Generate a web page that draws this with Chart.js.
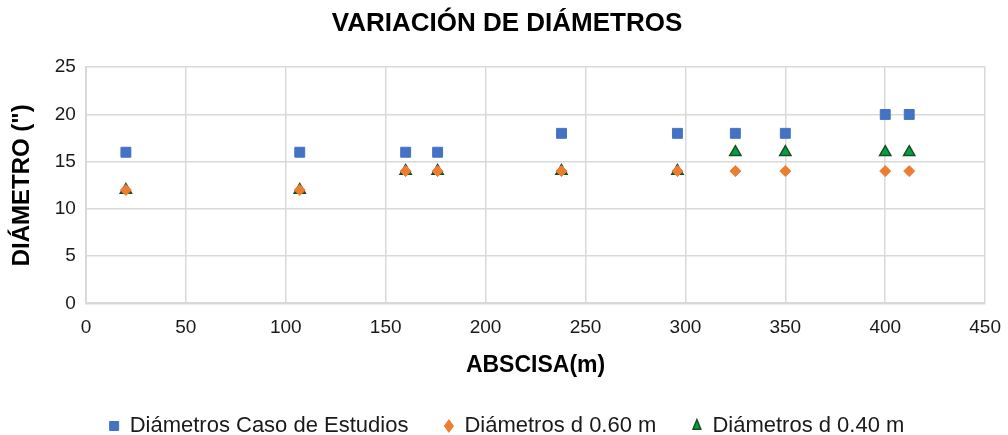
<!DOCTYPE html>
<html>
<head>
<meta charset="utf-8">
<script src="https://cdn.jsdelivr.net/npm/chart.js@4"></script>
<style>
  html, body { margin: 0; padding: 0; background: #fff; }
  #wrap { width: 1008px; height: 435px; }
</style>
</head>
<body>
<div id="wrap"><canvas id="chart"></canvas></div>
<script>
// abscisas (m)
const abscisas = [20, 107, 160, 176, 238, 296, 325, 350, 400, 412];
// diámetros (")
const casoEstudios = [16, 16, 16, 16, 18, 18, 18, 18, 20, 20];
const diam060 = [12, 12, 14, 14, 14, 14, 14, 14, 14, 14];
const diam040 = [12, 12, 14, 14, 14, 14, 16, 16, 16, 16];

const toPoints = (ys) => abscisas.map((x, i) => ({ x: x, y: ys[i] }));

const fontFamily = "'Liberation Sans', Arial, sans-serif";
const gridColor = "#d9d9d9";
const textColor = "#1a1a1a";

new Chart(document.getElementById("chart").getContext("2d"), {
  type: "scatter",
  data: {
    datasets: [
      {
        label: "Diámetros Caso de Estudios",
        data: toPoints(casoEstudios),
        pointStyle: "rect",
        pointRadius: 7,
        backgroundColor: "#4472c4",
        borderColor: "#4472c4",
        borderWidth: 1,
      },
      {
        label: "Diámetros d 0.60 m",
        data: toPoints(diam060),
        pointStyle: "rectRot",
        pointRadius: 5.5,
        backgroundColor: "#ed7d31",
        borderColor: "#ed7d31",
        borderWidth: 1,
      },
      {
        label: "Diámetros d 0.40 m",
        data: toPoints(diam040),
        pointStyle: "triangle",
        pointRadius: 6.5,
        backgroundColor: "#00a04a",
        borderColor: "#1d4d1d",
        borderWidth: 1.5,
      },
    ],
  },
  options: {
    responsive: true,
    maintainAspectRatio: false,
    animation: false,
    layout: { padding: { left: 8, right: 2, top: 0, bottom: -12 } },
    plugins: {
      title: {
        display: true,
        text: "VARIACIÓN DE DIÁMETROS",
        color: "#000",
        font: { family: fontFamily, size: 26, weight: "bold" },
        padding: { top: 8, bottom: 28 },
      },
      legend: {
        position: "bottom",
        labels: {
          usePointStyle: true,
          pointStyleWidth: 9,
          boxHeight: 9,
          color: textColor,
          font: { family: fontFamily, size: 22 },
          padding: 36,
        },
      },
      tooltip: { enabled: false },
    },
    scales: {
      x: {
        type: "linear",
        min: 0,
        max: 450,
        ticks: {
          stepSize: 50,
          color: textColor,
          font: { family: fontFamily, size: 19, lineHeight: 1.79 },
          padding: 7,
        },
        grid: { color: gridColor, lineWidth: 1.5, drawTicks: false },
        border: { color: gridColor, width: 2 },
        title: {
          display: true,
          text: "ABSCISA(m)",
          color: "#000",
          font: { family: fontFamily, size: 23, weight: "bold" },
          padding: { top: 0, bottom: 0 },
        },
      },
      y: {
        min: 0,
        max: 25,
        ticks: { stepSize: 5, color: textColor, font: { family: fontFamily, size: 19 }, padding: 10 },
        grid: { color: gridColor, lineWidth: 1.5, drawTicks: false },
        border: { color: gridColor, width: 2 },
        title: {
          display: true,
          text: "DIÁMETRO (\")",
          color: "#000",
          font: { family: fontFamily, size: 24, weight: "bold" },
          padding: { top: 0, bottom: 8 },
        },
      },
    },
  },
});
</script>
</body>
</html>
